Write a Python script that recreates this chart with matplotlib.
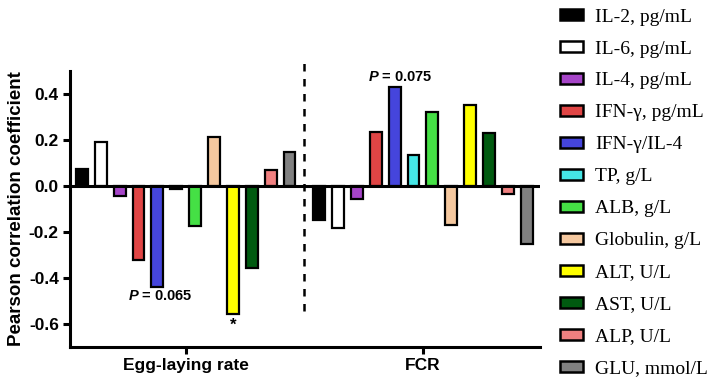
import matplotlib
matplotlib.use("Agg")
import matplotlib.pyplot as plt
from matplotlib.patches import Patch
import numpy as np

groups = ["Egg-laying rate", "FCR"]
variables = ["IL-2, pg/mL", "IL-6, pg/mL", "IL-4, pg/mL", "IFN-γ, pg/mL", "IFN-γ/IL-4",
             "TP, g/L", "ALB, g/L", "Globulin, g/L", "ALT, U/L", "AST, U/L",
             "ALP, U/L", "GLU, mmol/L"]
egg_values = [0.073, 0.189, -0.046, -0.323, -0.439, -0.015, -0.177, 0.210, -0.558, -0.358, 0.070, 0.148]
fcr_values = [-0.149, -0.185, -0.058, 0.232, 0.428, 0.135, 0.322, -0.170, 0.351, 0.228, -0.036, -0.253]
colors = ["#000000", "#ffffff", "#a645c8", "#e04545", "#4545dc", "#45e6e6",
          "#45e045", "#f5c89f", "#ffff00", "#005a10", "#f08080", "#808080"]
yticks = [-0.6, -0.4, -0.2, 0.0, 0.2, 0.4]

plt.rcParams['font.family'] = ['Liberation Sans', 'DejaVu Sans']
plt.rcParams['mathtext.fontset'] = 'custom'
plt.rcParams['mathtext.bfit'] = 'Liberation Sans:italic:bold'
plt.rcParams['mathtext.it'] = 'Liberation Sans:italic:bold'
plt.rcParams['mathtext.rm'] = 'Liberation Sans:bold'

fig = plt.figure(figsize=(7.09, 3.81), dpi=100)
ax = fig.add_axes([0.0987, 0.09, 0.6629, 0.7244])

pitch = 0.0795
width = 0.05
n = len(variables)
offsets = (np.arange(n) - (n - 1) / 2) * pitch
for gi, vals in enumerate([egg_values, fcr_values]):
    for i, v in enumerate(vals):
        ax.bar(gi + offsets[i], v, width=width, color=colors[i], edgecolor='black',
               linewidth=1.6, zorder=3)

ax.axhline(0, color='black', linewidth=2.2, zorder=4)
ax.plot([0.5, 0.5], [-0.543, 0.555], color='black', linestyle=(0, (3, 3)),
        linewidth=1.8, clip_on=False, zorder=2)

ax.set_xlim(-0.4876, 1.493)
ax.set_ylim(-0.7, 0.5)
ax.set_xticks([0, 1])
ax.set_xticklabels(groups, fontsize=12.5, fontweight='bold')
ax.set_yticks(yticks)
ax.set_yticklabels([f"{t:.1f}" for t in yticks], fontsize=12.5, fontweight='bold')
ax.set_ylabel("Pearson correlation coefficient", fontsize=13.5, fontweight='bold', labelpad=3)

for s in ['top', 'right']:
    ax.spines[s].set_visible(False)
for s in ['left', 'bottom']:
    ax.spines[s].set_linewidth(2.2)
ax.tick_params(axis='both', width=2.2, length=5, pad=3)

ax.text(-0.105, -0.478, r"$\it{P}$" + " = 0.065", fontsize=10.5, fontweight='bold',
        ha='center', va='center')
ax.text(0 + offsets[8], -0.605, "*", fontsize=12, fontweight='bold', ha='center', va='center')
ax.text(0.905, 0.472, r"$\it{P}$" + " = 0.075", fontsize=10.5, fontweight='bold',
        ha='center', va='center')

handles = [Patch(facecolor=c, edgecolor='black', linewidth=1.8) for c in colors]
fig.legend(handles, variables, loc='upper left', bbox_to_anchor=(0.779, 0.998),
           frameon=False, prop={'family': 'Liberation Serif', 'size': 14},
           handlelength=1.2, handleheight=0.45, labelspacing=0.77, handletextpad=0.6,
           borderaxespad=0.0)

fig.savefig("out.png", dpi=100)
